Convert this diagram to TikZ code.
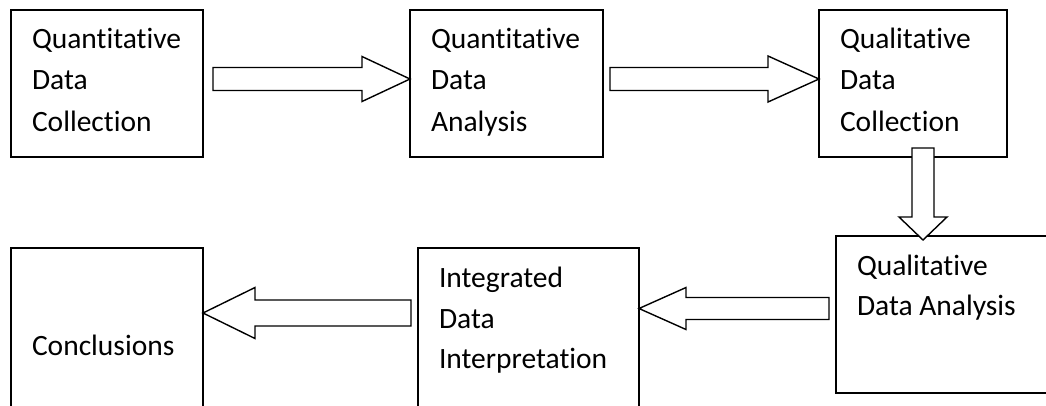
\documentclass[tikz,border=0pt]{standalone}
\usepackage{fontspec}
\setmainfont{Carlito}[Ligatures={NoCommon}]
\usetikzlibrary{calc}
\tikzset{
  box/.style={draw=black, line width=1.4pt, rectangle, inner sep=0pt, outer sep=0pt},
  lbl/.style={anchor=base west, inner sep=0pt, outer sep=0pt, font=\fontsize{29.5}{34}\selectfont},
  barrow/.style={draw=black, fill=white, line width=1.4pt, line join=miter}
}
\begin{document}
\begin{tikzpicture}[x=1pt,y=-1pt]
\useasboundingbox (0,0) rectangle (1046,405);
\clip (0,0) rectangle (1046,405);
\fill[white] (0,0) rectangle (1046,405);

% boxes
\node[box, minimum width=192pt, minimum height=147pt] (b1) at (107,83.5) {};
\node[box, minimum width=193pt, minimum height=147pt] (b2) at (506.5,83.5) {};
\node[box, minimum width=188pt, minimum height=147pt] (b3) at (913,83.5) {};
\node[box, minimum width=224pt, minimum height=157pt] (b4) at (948,314.5) {};
\node[box, minimum width=221pt, minimum height=172pt] (b5) at (528.5,334) {};
\node[box, minimum width=192pt, minimum height=172pt] (b6) at (107,334) {};

% labels
\node[lbl] (t1a) at (32,48) {Quantitative};
\node[lbl] (t1b) at (32,89.5) {Data};
\node[lbl] (t1c) at (32,131) {Collection};
\node[lbl] (t2a) at (431,48) {Quantitative};
\node[lbl] (t2b) at (431,89.5) {Data};
\node[lbl] (t2c) at (431,131) {Analysis};
\node[lbl] (t3a) at (840,48) {Qualitative};
\node[lbl] (t3b) at (840,89.5) {Data};
\node[lbl] (t3c) at (840,131) {Collection};
\node[lbl] (t4a) at (857,275) {Qualitative};
\node[lbl] (t4b) at (857,315) {Data Analysis};
\node[lbl] (t5a) at (439,287) {Integrated};
\node[lbl] (t5b) at (439,328) {Data};
\node[lbl] (t5c) at (439,368.5) {Interpretation};
\node[lbl] (t6a) at (32,355) {Conclusions};

% anchor points of block arrows
\coordinate (a1s) at ($(b1.east)+(10,-4.5)$);
\coordinate (a1t) at ($(b2.west)+(0,-4.5)$);
\coordinate (a2s) at ($(b2.east)+(7,-4.5)$);
\coordinate (a2t) at ($(b3.west)+(0,-4.5)$);
\coordinate (a3s) at ($(b3.south)+(10,-9)$);
\coordinate (a3t) at ($(b4.north)+(-25,4)$);
\coordinate (a4s) at ($(b4.west)+(-7,-5.5)$);
\coordinate (a4t) at ($(b5.east)+(0,-25.5)$);
\coordinate (a5s) at ($(b5.west)+(-7,-21)$);
\coordinate (a5t) at ($(b6.east)+(0,-21)$);

% block arrows
\draw[barrow] let \p1=(a1s), \p2=(a1t) in
  (\x1,\y2+11.5pt) -- (\x2-48pt,\y2+11.5pt) -- (\x2-48pt,\y2+22.5pt) -- (\p2)
  -- (\x2-48pt,\y2-22.5pt) -- (\x2-48pt,\y2-11.5pt) -- (\x1,\y2-11.5pt) -- cycle;
\draw[barrow] let \p1=(a2s), \p2=(a2t) in
  (\x1,\y2+11.5pt) -- (\x2-51pt,\y2+11.5pt) -- (\x2-51pt,\y2+23pt) -- (\p2)
  -- (\x2-51pt,\y2-23pt) -- (\x2-51pt,\y2-11.5pt) -- (\x1,\y2-11.5pt) -- cycle;
\draw[barrow] let \p1=(a3s), \p2=(a3t) in
  (\x2-11pt,\y1) -- (\x2-11pt,\y2+23pt) -- (\x2-24pt,\y2+23pt) -- (\p2)
  -- (\x2+24pt,\y2+23pt) -- (\x2+11pt,\y2+23pt) -- (\x2+11pt,\y1) -- cycle;
\draw[barrow] let \p1=(a4s), \p2=(a4t) in
  (\x1,\y2+11pt) -- (\x2+47pt,\y2+11pt) -- (\x2+47pt,\y2+21pt) -- (\p2)
  -- (\x2+47pt,\y2-21pt) -- (\x2+47pt,\y2-11pt) -- (\x1,\y2-11pt) -- cycle;
\draw[barrow] let \p1=(a5s), \p2=(a5t) in
  (\x1,\y2+13pt) -- (\x2+52pt,\y2+13pt) -- (\x2+52pt,\y2+25.5pt) -- (\p2)
  -- (\x2+52pt,\y2-25.5pt) -- (\x2+52pt,\y2-13pt) -- (\x1,\y2-13pt) -- cycle;
\end{tikzpicture}
\end{document}
